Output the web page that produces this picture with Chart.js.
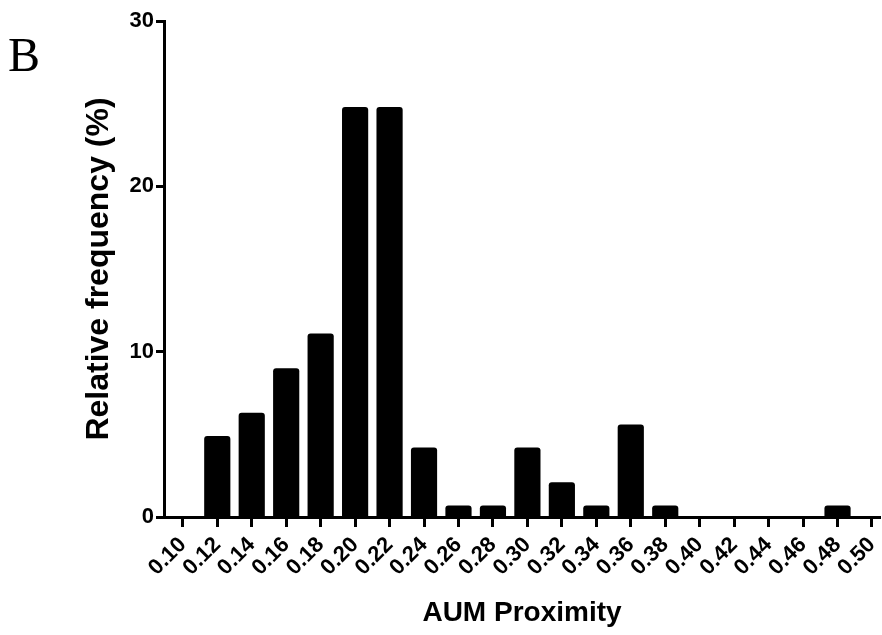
<!DOCTYPE html>
<html>
<head>
<meta charset="utf-8">
<script src="https://cdn.jsdelivr.net/npm/chart.js@4/dist/chart.umd.min.js"></script>
<style>
  html, body { margin: 0; padding: 0; background: #fff; }
  #wrap { position: relative; width: 882px; height: 635px; }
</style>
</head>
<body>
<div id="wrap"><canvas id="chart" width="882" height="635"></canvas></div>
<script>
// ═══ DATA ═══
const binLabels = ["0.10","0.12","0.14","0.16","0.18","0.20","0.22","0.24","0.26","0.28","0.30",
                   "0.32","0.34","0.36","0.38","0.40","0.42","0.44","0.46","0.48","0.50"];
const relFrequency = [0, 4.9, 6.3, 9.0, 11.1, 24.8, 24.8, 4.2, 0.7, 0.7, 4.2,
                      2.1, 0.7, 5.6, 0.7, 0, 0, 0, 0, 0.7, 0];
const yTicks = [0, 10, 20, 30];

const FONT = "'Liberation Sans', Arial, sans-serif";

// panel letter
const panelLetter = {
  id: "panelLetter",
  afterDraw(chart) {
    const ctx = chart.ctx;
    ctx.save();
    ctx.fillStyle = "#000";
    ctx.font = "48px 'Liberation Serif', 'Times New Roman', serif";
    ctx.textAlign = "left";
    ctx.textBaseline = "alphabetic";
    ctx.fillText("B", 8, 71);
    ctx.restore();
  }
};

const binValues = binLabels.map(l => parseFloat(l));
const points = binValues.map((x, i) => ({ x: x, y: relFrequency[i] }));

new Chart(document.getElementById("chart"), {
  type: "bar",
  data: {
    datasets: [{
      data: points,
      backgroundColor: "#000",
      borderWidth: 0,
      borderRadius: 3,
      barPercentage: 0.76,
      categoryPercentage: 1.0
    }]
  },
  options: {
    responsive: false,
    animation: false,
    devicePixelRatio: 1,
    layout: { padding: { top: 21, right: 2, left: 0, bottom: 0 } },
    plugins: { legend: { display: false }, tooltip: { enabled: false } },
    scales: {
      x: {
        type: "linear",
        bounds: "data",
        offset: false,
        min: 0.08908,
        max: 0.50465,
        afterBuildTicks: s => { s.ticks = binValues.map(v => ({ value: v })); },
        afterFit: s => { s.height = 118; s.paddingRight = 0; s.paddingLeft = 0; },
        border: { display: true, color: "#000", width: 3 },
        grid: { display: true, offset: false, drawOnChartArea: false, drawTicks: true,
                tickLength: 10, tickWidth: 3, tickColor: "#000" },
        ticks: {
          autoSkip: false,
          maxRotation: 45, minRotation: 45,
          padding: 5,
          color: "#000",
          font: { family: FONT, size: 22, weight: "bold" },
          callback: v => v.toFixed(2)
        },
        title: {
          display: true, text: "AUM Proximity", color: "#000",
          font: { family: FONT, size: 28, weight: "bold" },
          padding: { top: 0, bottom: 5 }
        }
      },
      y: {
        min: 0, max: 30,
        afterFit: s => { s.width = 164; },
        afterBuildTicks: s => { s.ticks = yTicks.map(v => ({ value: v })); },
        border: { display: true, color: "#000", width: 3 },
        grid: { display: true, drawOnChartArea: false, drawTicks: true,
                tickLength: 8, tickWidth: 3, tickColor: "#000" },
        ticks: {
          padding: 2,
          color: "#000",
          font: { family: FONT, size: 22, weight: "bold" }
        },
        title: {
          display: true, text: "Relative frequency (%)", color: "#000",
          font: { family: FONT, size: 32, weight: "bold" },
          padding: { top: 80, bottom: 0 }
        }
      }
    }
  },
  plugins: [panelLetter]
});
</script>
</body>
</html>
